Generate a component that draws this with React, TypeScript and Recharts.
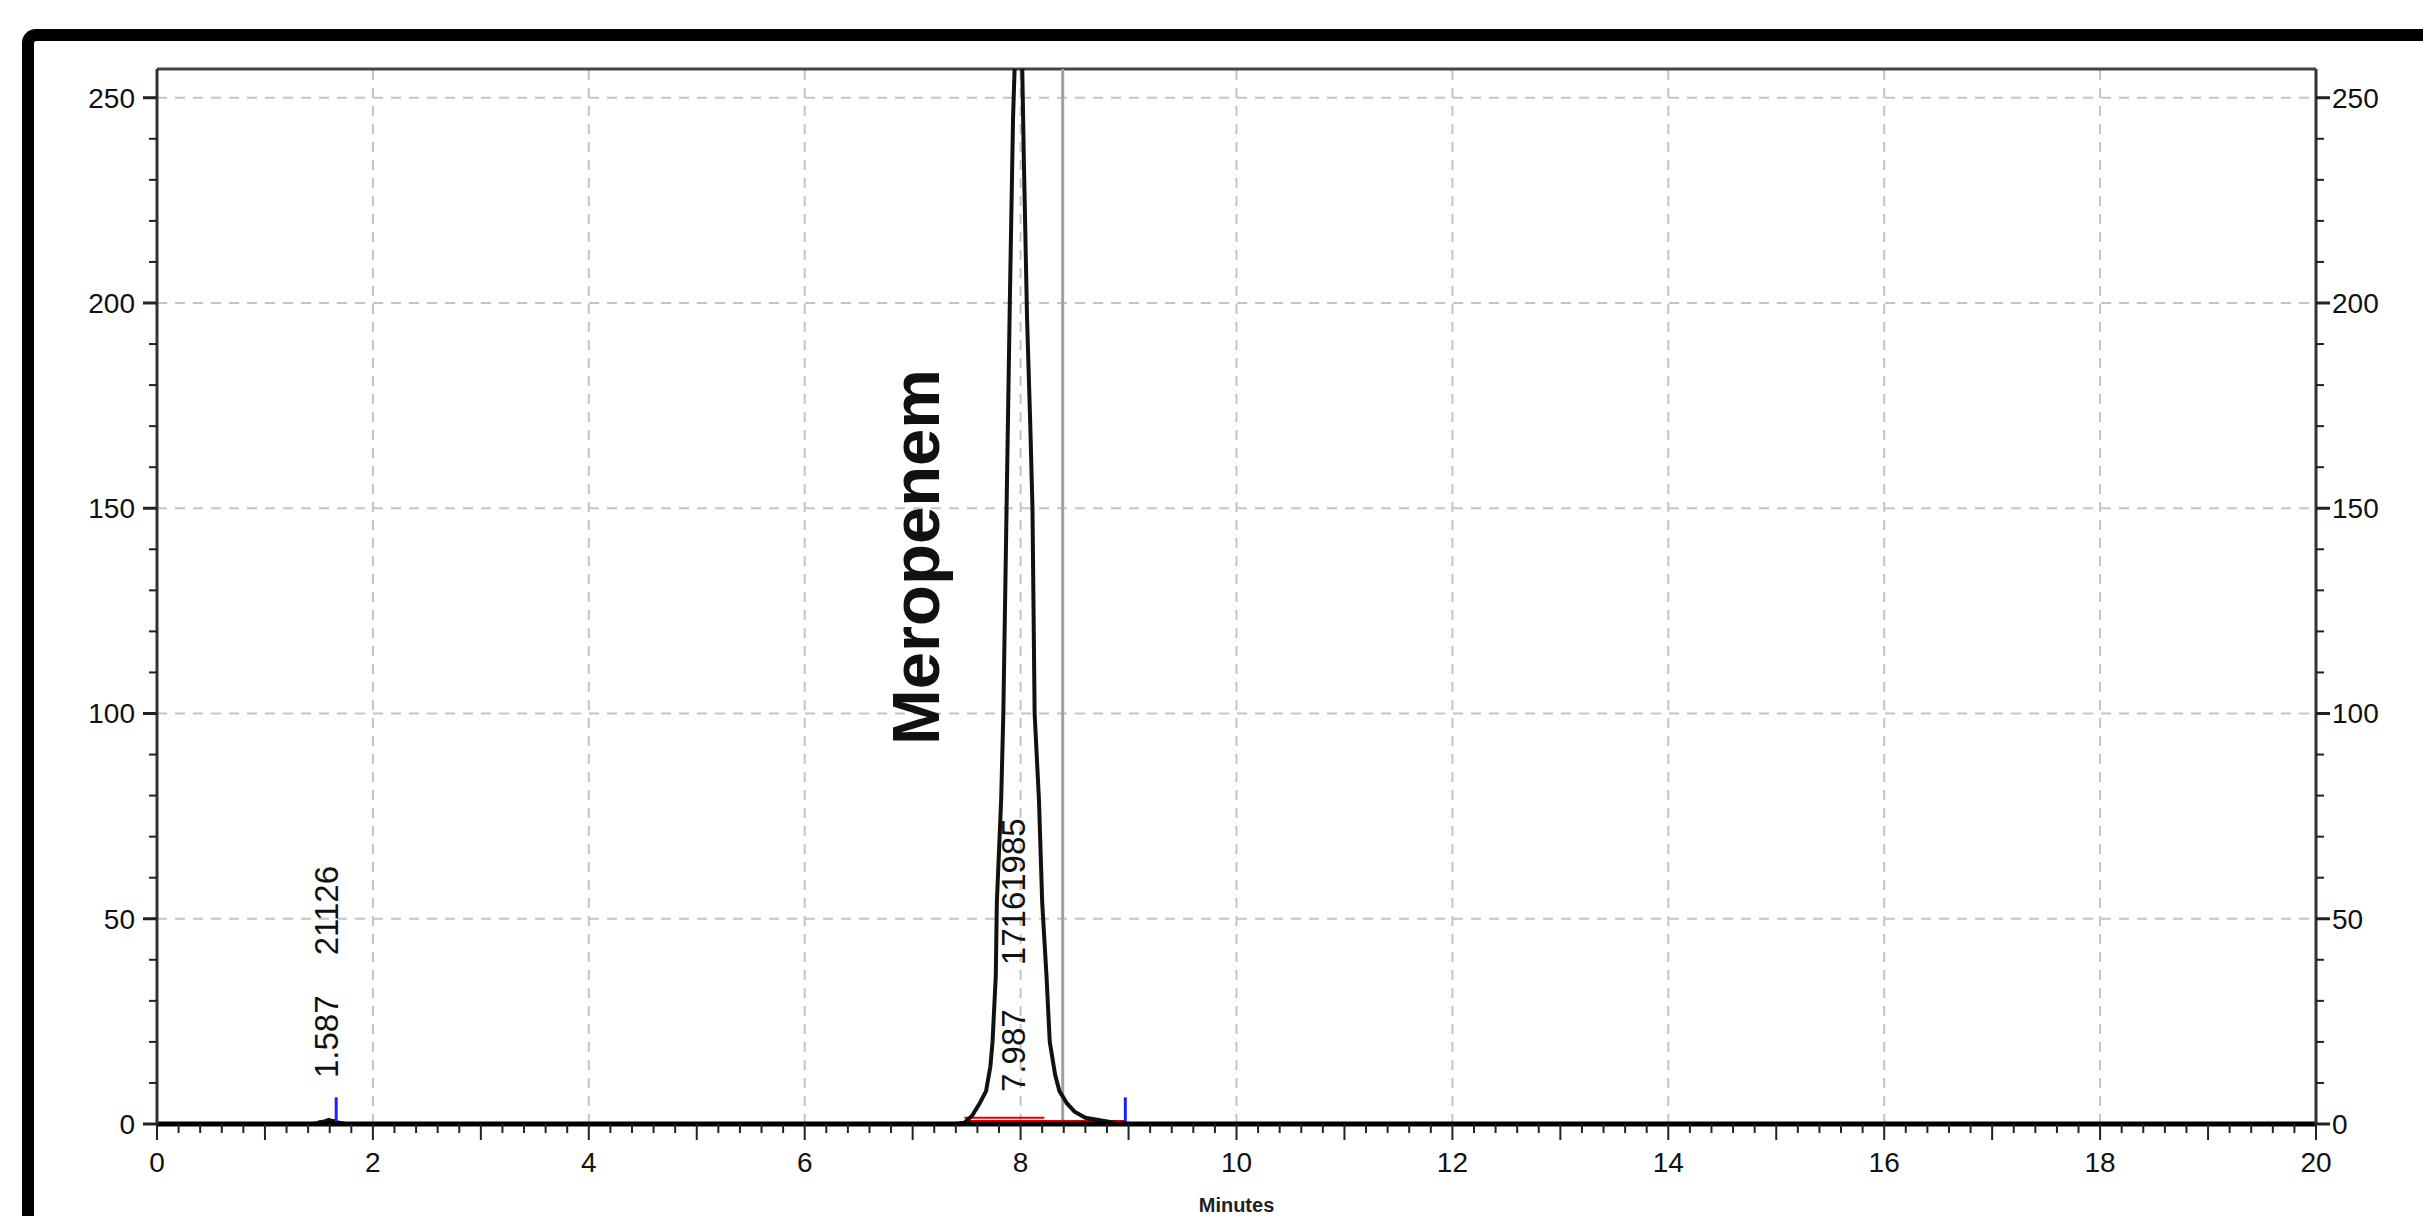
import React from 'react';
import { LineChart, Line, XAxis, YAxis, ReferenceLine, ReferenceDot } from 'recharts';

// chromatogram trace (minutes, mAU)
const signal = [
  { x: 0, y: 0 }, { x: 1.45, y: 0 }, { x: 1.55, y: 0.6 }, { x: 1.59, y: 1.0 }, { x: 1.65, y: 0.5 },
  { x: 1.75, y: 0 }, { x: 7.4, y: 0 }, { x: 7.48, y: 0.3 }, { x: 7.55, y: 2 }, { x: 7.62, y: 5 },
  { x: 7.68, y: 8 }, { x: 7.72, y: 14 }, { x: 7.74, y: 20 }, { x: 7.77, y: 36 }, { x: 7.78, y: 54 },
  { x: 7.82, y: 79 }, { x: 7.84, y: 100 }, { x: 7.87, y: 150 }, { x: 7.9, y: 200 }, { x: 7.93, y: 245 },
  { x: 7.96, y: 270 }, { x: 7.987, y: 285 }, { x: 8.01, y: 265 }, { x: 8.03, y: 235 }, { x: 8.06, y: 196 },
  { x: 8.09, y: 170 }, { x: 8.11, y: 150 }, { x: 8.13, y: 100 }, { x: 8.17, y: 79 }, { x: 8.2, y: 54 },
  { x: 8.24, y: 36 }, { x: 8.27, y: 20 }, { x: 8.32, y: 12 }, { x: 8.36, y: 8 }, { x: 8.43, y: 5 },
  { x: 8.5, y: 3 }, { x: 8.6, y: 1.5 }, { x: 8.76, y: 0.8 }, { x: 8.9, y: 0.2 }, { x: 9.0, y: 0 },
  { x: 20, y: 0 },
];

// integration baselines (red)
const baseSmall = [{ x: 1.49, y: 0.5 }, { x: 1.66, y: 0.9 }];
const baseMain = [{ x: 7.48, y: 0.6 }, { x: 8.97, y: 0.6 }];
const baseMainUpper = [{ x: 7.48, y: 1.5 }, { x: 8.22, y: 1.5 }];

// peak end markers (blue)
const peakMarkers = [1.66, 8.97];
const MARKER_HEIGHT = 6.5;

// peak annotations
const peakLabels = [
  { x: 1.676, y: 11.2, text: '1.587' },
  { x: 1.676, y: 41.1, text: '21126' },
  { x: 8.04, y: 7.8, text: '7.987' },
  { x: 8.04, y: 38.7, text: '17161985' },
];
const compound = { x: 7.24, y: 92.3, text: 'Meropenem' };

const CURSOR_X = 8.39;

const xMajorTicks = [0, 2, 4, 6, 8, 10, 12, 14, 16, 18, 20];
const yMajorTicks = [0, 50, 100, 150, 200, 250];
const X_MAX = 20;
const Y_MAX = 257;
const X_MINOR_STEP = 0.2;
const Y_MINOR_STEP = 10;

const xTicks = Array.from({ length: Math.round(X_MAX / X_MINOR_STEP) + 1 }, (_, i) => +(i * X_MINOR_STEP).toFixed(1));
const yTicks = Array.from({ length: 26 }, (_, i) => i * Y_MINOR_STEP);

const tickFont = { fontFamily: '"Liberation Sans", Arial, sans-serif', fontSize: 28, fill: '#111' };

const XTick = (props: any) => {
  const { x, y, payload } = props;
  const v = payload.value;
  const major = xMajorTicks.includes(v);
  const mid = Math.abs(v - Math.round(v)) < 1e-6;
  const len = major || mid ? 16 : 9;
  return (
    <g>
      <line x1={x} x2={x} y1={y} y2={y + len} stroke="#222" strokeWidth={2} />
      {major && (
        <text x={x} y={y + 48} textAnchor="middle" {...tickFont}>{v}</text>
      )}
    </g>
  );
};

const YTickLeft = (props: any) => {
  const { x, y, payload } = props;
  const v = payload.value;
  const major = yMajorTicks.includes(v);
  const len = major ? 14 : 8;
  return (
    <g>
      <line x1={x - len} x2={x} y1={y} y2={y} stroke="#222" strokeWidth={major ? 3 : 2} />
      {major && (
        <text x={x - 22} y={y} dy="0.35em" textAnchor="end" {...tickFont}>{v}</text>
      )}
    </g>
  );
};

const YTickRight = (props: any) => {
  const { x, y, payload } = props;
  const v = payload.value;
  const major = yMajorTicks.includes(v);
  const len = major ? 14 : 8;
  return (
    <g>
      <line x1={x} x2={x + len} y1={y} y2={y} stroke="#222" strokeWidth={major ? 3 : 2} />
      {major && (
        <text x={x + 16} y={y} dy="0.35em" textAnchor="start" {...tickFont}>{v}</text>
      )}
    </g>
  );
};

const vText = (text: string, size: number, bold: boolean) => (p: any) => (
  <text
    x={p.cx}
    y={p.cy}
    transform={`rotate(-90 ${p.cx} ${p.cy})`}
    textAnchor="start"
    fontFamily='"Liberation Sans", Arial, sans-serif'
    fontSize={size}
    fontWeight={bold ? 700 : 400}
    fill="#111"
  >
    {text}
  </text>
);

const grid = { stroke: '#c4c4c4', strokeWidth: 2, strokeDasharray: '10 8' };

const App: React.FC = () => {
  return (
    <div style={{ position: 'relative', width: 2423, height: 1216, overflow: 'hidden', background: '#fff' }}>
      <style>{'body{margin:0}'}</style>
      <div
        style={{
          position: 'absolute', left: 22, top: 29, width: 3000, height: 2000,
          borderLeft: '12px solid #000', borderTop: '12px solid #000', borderTopLeftRadius: 14,
        }}
      />
      <div style={{ position: 'absolute', left: 0, top: 0 }}>
        <LineChart width={2423} height={1216} margin={{ top: 69, right: 0, bottom: 0, left: 0 }}>
          <XAxis
            type="number"
            dataKey="x"
            domain={[0, X_MAX]}
            ticks={xTicks}
            interval={0}
            height={92}
            tickSize={0}
            tickMargin={0}
            tickLine={false}
            tick={<XTick />}
            axisLine={{ stroke: '#000', strokeWidth: 5 }}
            allowDataOverflow
            label={{ value: 'Minutes', position: 'insideBottom', offset: 4, style: { fontFamily: '"Liberation Sans", Arial, sans-serif', fontSize: 20, fontWeight: 700, fill: '#222' } }}
          />
          <YAxis
            yAxisId="left"
            type="number"
            domain={[0, Y_MAX]}
            ticks={yTicks}
            interval={0}
            width={157}
            tickSize={0}
            tickMargin={0}
            tickLine={false}
            tick={<YTickLeft />}
            axisLine={{ stroke: '#333', strokeWidth: 3 }}
            allowDataOverflow
          />
          <YAxis
            yAxisId="right"
            orientation="right"
            type="number"
            domain={[0, Y_MAX]}
            ticks={yTicks}
            interval={0}
            width={107}
            tickSize={0}
            tickMargin={0}
            tickLine={false}
            tick={<YTickRight />}
            axisLine={{ stroke: '#333', strokeWidth: 3 }}
            allowDataOverflow
          />

          {xMajorTicks.filter((v) => v > 0 && v < X_MAX).map((v) => (
            <ReferenceLine key={`gx${v}`} yAxisId="left" x={v} {...grid} />
          ))}
          {yMajorTicks.filter((v) => v > 0).map((v) => (
            <ReferenceLine key={`gy${v}`} yAxisId="left" y={v} {...grid} />
          ))}
          <ReferenceLine yAxisId="left" y={Y_MAX} stroke="#444" strokeWidth={3} />
          <ReferenceLine yAxisId="left" x={CURSOR_X} stroke="#a0a0a0" strokeWidth={3} />

          <Line yAxisId="left" data={baseMainUpper} dataKey="y" type="linear" stroke="#e00000" strokeWidth={2} dot={false} isAnimationActive={false} />
          <Line yAxisId="left" data={baseMain} dataKey="y" type="linear" stroke="#e00000" strokeWidth={3} dot={false} isAnimationActive={false} />
          <Line yAxisId="left" data={baseSmall} dataKey="y" type="linear" stroke="#e00000" strokeWidth={3} dot={false} isAnimationActive={false} />
          <Line yAxisId="left" data={signal} dataKey="y" type="linear" stroke="#111" strokeWidth={4} dot={false} isAnimationActive={false} />

          {peakMarkers.map((v) => (
            <ReferenceLine
              key={`m${v}`}
              yAxisId="left"
              segment={[{ x: v, y: 0 }, { x: v, y: MARKER_HEIGHT }]}
              stroke="#2020ff"
              strokeWidth={3}
            />
          ))}

          {peakLabels.map((l) => (
            <ReferenceDot key={l.text} yAxisId="left" x={l.x} y={l.y} r={0} shape={vText(l.text, 33, false)} />
          ))}
          <ReferenceDot yAxisId="left" x={compound.x} y={compound.y} r={0} shape={vText(compound.text, 67, true)} />
        </LineChart>
      </div>
    </div>
  );
};

export default App;
